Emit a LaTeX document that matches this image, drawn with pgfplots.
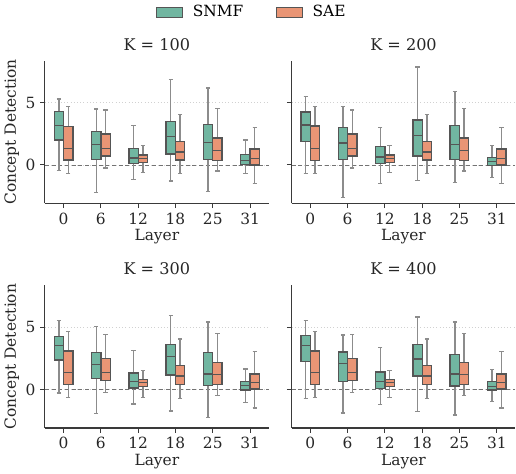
\documentclass[border=0pt]{standalone}
\usepackage{fontspec}
\setmainfont{DejaVu Serif}
\usepackage{pgfplots}
\pgfplotsset{compat=1.18}
\usepgfplotslibrary{groupplots,statistics}

\definecolor{snmf}{HTML}{71B6A1}
\definecolor{sae}{HTML}{E99575}
\definecolor{edge}{HTML}{555555}
\definecolor{whisk}{HTML}{8C8C8C}
\definecolor{spine}{HTML}{3A3A3A}

% style, position, lower whisker, Q1, median, Q3, upper whisker
\newcommand{\bx}[7]{%
  \addplot[#1, forget plot, boxplot prepared={draw position=#2,
    lower whisker=#3, lower quartile=#4, median=#5,
    upper quartile=#6, upper whisker=#7}] coordinates {};}

\pgfplotsset{
  snmfbox/.style={fill=snmf, draw=edge, line width=1.0pt},
  saebox/.style={fill=sae, draw=edge, line width=1.0pt},
  zeroline/.style={dash pattern=on 3pt off 2pt, draw=black!55, line width=0.6pt, forget plot},
}

\begin{document}
\begin{tikzpicture}
\begin{groupplot}[
  group style={group size=2 by 2, horizontal sep=17pt, vertical sep=61pt,
    y descriptions at=edge left},
  scale only axis, width=167pt, height=106.5pt,
  xmin=-0.5, xmax=5.5, ymin=-3.1, ymax=8.4,
  xtick={0,1,2,3,4,5}, xticklabels={0,6,12,18,25,31},
  ytick={0,5},
  axis x line*=bottom, axis y line*=left,
  axis line style={draw=spine, line width=0.8pt, -},
  tick style={draw=spine, line width=0.8pt},
  major tick length=3.5pt, tick align=outside,
  xlabel={Layer}, ylabel={Concept Detection},
  ymajorgrids, grid style={dotted, draw=black!18, line width=0.6pt},
  /pgf/number format/assume math mode=true,
  tick label style={font=\fontsize{11.5}{13}\selectfont, text=black!85},
  label style={font=\fontsize{11.5}{13}\selectfont, text=black!85},
  title style={font=\fontsize{12}{14}\selectfont, text=black!85, yshift=-2pt},
  xlabel style={yshift=3pt},
  ylabel style={yshift=-2pt},
  boxplot/draw direction=y,
  boxplot/box extend=0.25,
  boxplot/whisker extend=0.11,
  boxplot/every whisker/.style={draw=whisk, line width=1.0pt},
  boxplot/every median/.style={draw=edge, line width=1.0pt},
]
% ---- K = 100
\nextgroupplot[title={K = 100},
  legend style={at={(0.925,1.34)}, anchor=center, draw=none, fill=none,
    legend columns=2, font=\fontsize{11.5}{13}\selectfont,
    /tikz/every even column/.append style={column sep=22pt},
    cells={anchor=west}},
  legend image code/.code={\draw[#1] (0pt,-3.8pt) rectangle (20pt,3.8pt);
    \path (25pt,0pt);}]
\addlegendimage{fill=snmf, draw=edge, line width=0.7pt}
\addlegendentry{SNMF}
\addlegendimage{fill=sae, draw=edge, line width=0.7pt}
\addlegendentry{SAE}
\addplot[zeroline] coordinates {(-0.5,0) (5.5,0)};
\bx{snmfbox}{-0.125}{-0.43}{2.00}{3.16}{4.30}{5.32}
\bx{saebox}{0.125}{-0.68}{0.41}{1.35}{3.11}{4.70}
\bx{snmfbox}{0.875}{-2.24}{0.46}{1.62}{2.70}{4.51}
\bx{saebox}{1.125}{-0.24}{0.73}{1.35}{2.49}{4.43}
\bx{snmfbox}{1.875}{-1.16}{0.14}{0.57}{1.32}{3.16}
\bx{saebox}{2.125}{-0.62}{0.22}{0.51}{0.81}{1.54}
\bx{snmfbox}{2.875}{-1.30}{0.89}{2.27}{3.51}{6.86}
\bx{saebox}{3.125}{-0.70}{0.41}{1.05}{1.89}{4.05}
\bx{snmfbox}{3.875}{-2.14}{0.46}{1.81}{3.24}{6.19}
\bx{saebox}{4.125}{-0.49}{0.38}{1.16}{2.16}{4.54}
\bx{snmfbox}{4.875}{-0.68}{0.05}{0.35}{0.84}{2.00}
\bx{saebox}{5.125}{-1.51}{0.00}{0.54}{1.27}{3.03}
% ---- K = 200
\nextgroupplot[title={K = 200}]
\addplot[zeroline] coordinates {(-0.5,0) (5.5,0)};
\bx{snmfbox}{-0.125}{-0.70}{1.89}{3.22}{4.27}{5.51}
\bx{saebox}{0.125}{-0.70}{0.38}{1.35}{3.14}{4.70}
\bx{snmfbox}{0.875}{-2.62}{0.46}{1.78}{3.00}{4.68}
\bx{saebox}{1.125}{-0.24}{0.73}{1.35}{2.49}{4.43}
\bx{snmfbox}{1.875}{-1.51}{0.14}{0.65}{1.49}{3.03}
\bx{saebox}{2.125}{-0.62}{0.22}{0.51}{0.81}{1.54}
\bx{snmfbox}{2.875}{-1.27}{0.73}{2.35}{3.62}{7.89}
\bx{saebox}{3.125}{-0.70}{0.41}{1.05}{1.89}{4.05}
\bx{snmfbox}{3.875}{-1.43}{0.43}{1.62}{3.16}{5.92}
\bx{saebox}{4.125}{-0.49}{0.38}{1.16}{2.16}{4.54}
\bx{snmfbox}{4.875}{-1.03}{-0.05}{0.27}{0.62}{1.59}
\bx{saebox}{5.125}{-1.51}{0.00}{0.54}{1.27}{3.03}
% ---- K = 300
\nextgroupplot[title={K = 300}]
\addplot[zeroline] coordinates {(-0.5,0) (5.5,0)};
\bx{snmfbox}{-0.125}{-0.27}{2.39}{3.52}{4.27}{5.54}
\bx{saebox}{0.125}{-0.67}{0.43}{1.37}{3.09}{4.65}
\bx{snmfbox}{0.875}{-1.91}{0.89}{2.04}{2.98}{5.08}
\bx{saebox}{1.125}{-0.22}{0.73}{1.37}{2.50}{4.44}
\bx{snmfbox}{1.875}{-1.18}{0.13}{0.62}{1.34}{3.15}
\bx{saebox}{2.125}{-0.62}{0.24}{0.54}{0.83}{1.53}
\bx{snmfbox}{2.875}{-1.72}{1.18}{2.66}{3.60}{5.97}
\bx{saebox}{3.125}{-0.70}{0.43}{1.08}{1.91}{4.06}
\bx{snmfbox}{3.875}{-2.28}{0.30}{1.26}{2.96}{5.43}
\bx{saebox}{4.125}{-0.46}{0.43}{1.21}{2.18}{4.52}
\bx{snmfbox}{4.875}{-1.05}{-0.03}{0.32}{0.67}{1.64}
\bx{saebox}{5.125}{-1.48}{0.05}{0.54}{1.26}{3.04}
% ---- K = 400
\nextgroupplot[title={K = 400}]
\addplot[zeroline] coordinates {(-0.5,0) (5.5,0)};
\bx{snmfbox}{-0.125}{-0.73}{2.23}{3.55}{4.33}{5.54}
\bx{saebox}{0.125}{-0.67}{0.43}{1.37}{3.09}{4.65}
\bx{snmfbox}{0.875}{-1.88}{0.62}{2.07}{3.01}{4.38}
\bx{saebox}{1.125}{-0.22}{0.70}{1.37}{2.50}{4.44}
\bx{snmfbox}{1.875}{-1.21}{0.08}{0.62}{1.40}{3.36}
\bx{saebox}{2.125}{-0.62}{0.24}{0.54}{0.83}{1.53}
\bx{snmfbox}{2.875}{-1.77}{1.10}{2.45}{3.60}{5.83}
\bx{saebox}{3.125}{-0.70}{0.43}{1.08}{1.91}{4.06}
\bx{snmfbox}{3.875}{-2.04}{0.27}{1.26}{2.82}{5.43}
\bx{saebox}{4.125}{-0.46}{0.43}{1.21}{2.18}{4.52}
\bx{snmfbox}{4.875}{-0.97}{-0.05}{0.24}{0.62}{1.59}
\bx{saebox}{5.125}{-1.48}{0.05}{0.54}{1.26}{3.04}
\end{groupplot}
\end{tikzpicture}
\end{document}
